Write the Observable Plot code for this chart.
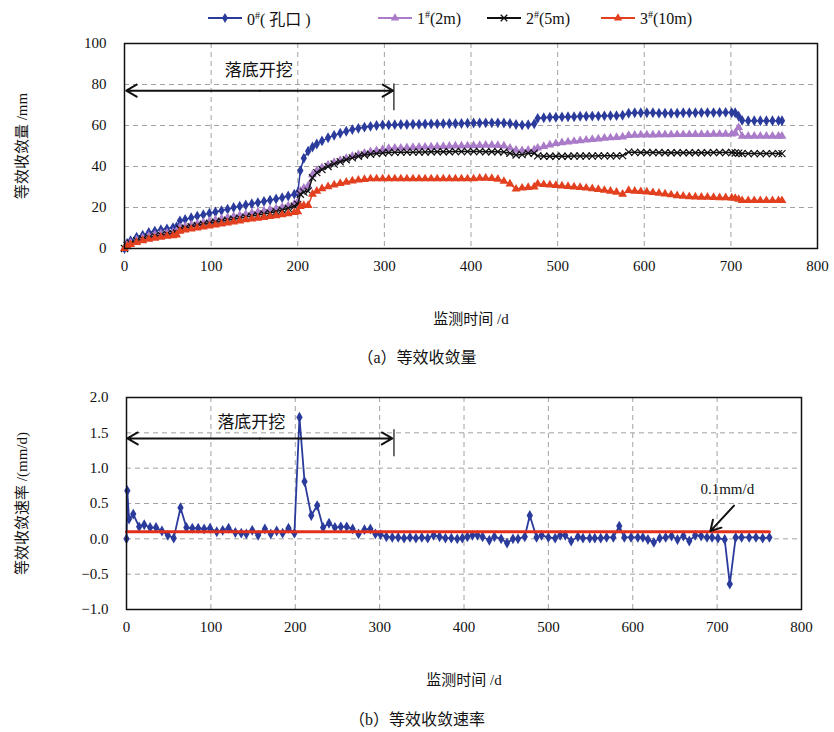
<!DOCTYPE html>
<html><head><meta charset="utf-8">
<script src="https://cdn.jsdelivr.net/npm/d3@7"></script>
<script src="https://cdn.jsdelivr.net/npm/@observablehq/plot@0.6"></script>
<style>
body{margin:0;background:#fff;}
#wrap{position:relative;width:834px;height:732px;font-family:"Liberation Serif","Noto Sans CJK SC",serif;color:#111;overflow:hidden;}
.abs{position:absolute;}
.cap{position:absolute;left:0;width:834px;text-align:center;font-size:16px;}
.leg{position:absolute;top:6px;height:24px;display:flex;align-items:center;font-size:16px;}
.leg svg{margin-right:5px;}
sup{font-size:10px;vertical-align:6px;}
</style></head><body><div id="wrap"></div>
<script>
// ---------- data ----------
const seriesNames = ["0#(孔口)", "1#(2m)", "2#(5m)", "3#(10m)"];
const days = [
  0,3,7,14,21,28,35,42,49,56,60,
  64,70,77,84,91,98,105,112,119,126,133,140,147,154,161,168,175,182,189,196,
  200,203,207,212,217,222,228,235,242,249,256,263,270,277,284,291,298,
  305,312,319,326,333,340,347,354,361,368,375,382,389,396,403,410,417,424,431,438,445,452,459,466,473,
  477,484,491,498,505,512,519,526,533,540,547,554,561,568,575,
  582,589,596,603,610,617,624,631,638,645,652,659,666,673,680,687,694,701,
  705,709,713,720,727,734,741,748,755,759
];
const s0 = [
  0,2.5,3.8,5.5,6.5,7.8,8.5,9.2,9.6,10.2,10.5,
  13.5,14.2,15,15.8,16.5,17.2,17.8,18.5,19.2,20,20.6,21.2,21.8,22.4,23,23.6,24.2,24.8,25.6,26.5,
  27.2,38,44,47.5,49.5,51,52.5,54,55.2,56.2,57.2,58,58.6,59.2,59.6,60,60.3,
  60.3,60.4,60.5,60.5,60.6,60.6,60.7,60.8,60.8,60.9,61,61,61,61.1,61.2,61.2,61.3,61.3,61.3,61.2,61,60.5,60.2,60.4,60.8,
  63.5,63.8,64,64,64.2,64.3,64.3,64.5,64.5,64.6,64.6,64.7,64.8,64.8,65,
  66,66.2,66.2,66.2,66.2,66,66,66,66,66.2,66.2,66.2,66.3,66.3,66.3,66.4,66.4,66.3,
  66.2,64.5,62.5,62.3,62.3,62.3,62.3,62.3,62.3,62.3
];
const s1 = [
  0,1.8,2.8,4.2,5.2,6,6.6,7.2,7.6,8,8.3,
  10.3,10.8,11.5,12.1,12.7,13.3,13.9,14.5,15.1,15.7,16.2,16.7,17.3,17.8,18.3,18.9,19.5,20.1,20.8,21.8,
  22.8,28,29.5,30.5,36,38,39.5,40.8,42,43,44,45,45.8,46.5,47.2,47.8,48.3,
  48.8,49,49,49.2,49.3,49.4,49.5,49.6,49.7,49.8,49.9,50,50,50.1,50.2,50.3,50.4,50.4,50.3,50,49,48,47.8,48,48.2,
  49,49.8,50.5,51.2,51.6,52,52.3,52.6,52.9,53.2,53.5,53.8,54,54.2,54.4,
  55.2,55.3,55.4,55.4,55.4,55.5,55.5,55.5,55.6,55.6,55.6,55.7,55.7,55.7,55.8,55.8,55.8,55.9,
  56.3,59,54.8,54.8,54.8,54.8,54.8,54.8,54.8,54.8
];
const s2 = [
  0,1.5,2.5,3.8,4.6,5.3,6,6.5,7,7.3,7.6,
  9.5,10,10.6,11.2,11.8,12.3,12.8,13.3,13.8,14.3,14.8,15.3,15.8,16.3,16.8,17.3,18,18.8,19.6,20.6,
  21.5,26.5,27.5,28,34.5,37,38.5,40,41.2,42.3,43.3,44.2,45,45.6,46,46.3,46.6,
  46.8,46.9,47,47,47,47.1,47.1,47.2,47.2,47.2,47.2,47.3,47.3,47.3,47.3,47.3,47.2,47.2,47.2,47.1,46.5,45.6,45.8,46.5,46.5,
  45.2,45,45,45,45,45,45.1,45.1,45.1,45.1,45.2,45.2,45.2,45.2,45.3,
  47,46.9,46.8,46.8,46.8,46.8,46.7,46.7,46.7,46.7,46.7,46.7,46.7,46.7,46.8,46.8,46.8,46.8,
  46.6,46.5,46.3,46.3,46.3,46.3,46.3,46.3,46.3,46.3
];
const s3 = [
  0,1.2,2,3,3.8,4.5,5,5.5,6,6.3,6.6,
  8.5,9,9.5,10,10.5,11,11.5,12,12.5,13,13.5,14,14.4,14.8,15.2,15.6,16,16.5,17,17.6,
  18,20.5,21,21,26.5,28,29.2,30.2,31,31.8,32.4,33,33.4,33.7,34,34,34,
  34,34,34,34,34,34,34,34,34,34,34,34,34,34,34,34.3,34.3,34.2,33.8,32.8,31.5,29,29.5,29.8,30,
  31.5,31.2,31,30.8,30.5,30.3,30,29.8,29.5,29.2,28.8,28.4,28,27.5,26.5,
  28.3,28,27.8,27.6,27.3,27,26.6,26.2,25.8,25.5,25.3,25.2,25,25,24.9,24.8,24.8,24.7,
  24.5,24,23.4,23.4,23.4,23.4,23.4,23.4,23.4,23.4
];
const rateDays = [
  0,1,3,8,15,21,28,35,42,49,56,64,71,78,85,92,99,107,114,121,
  129,136,142,149,156,164,171,178,185,192,199,205,211,219,226,233,240,247,254,261,
  268,275,282,289,295,301,308,315,322,329,336,343,350,357,364,371,378,385,392,398,
  404,410,416,422,430,436,444,451,458,464,472,478,486,492,500,508,514,520,527,535,
  541,549,555,562,569,577,584,590,598,606,612,618,625,632,639,646,653,660,667,674,
  681,688,694,701,709,715,722,729,738,746,754,762
];
const rateVals = [
  0,0.68,0.28,0.35,0.17,0.2,0.16,0.16,0.11,0.05,0.01,0.44,0.16,0.15,0.15,0.14,0.15,0.1,0.12,0.15,
  0.09,0.08,0.07,0.12,0.05,0.14,0.07,0.11,0.08,0.15,0.08,1.72,0.81,0.33,0.47,0.16,0.22,0.16,0.17,0.17,
  0.14,0.07,0.13,0.14,0.07,0.06,0.03,0.02,0.02,0.01,0.02,0.01,0.02,0.01,0.05,0.03,0.01,0.01,0,0.01,
  0.03,0.05,0.05,0.03,-0.02,0.03,0,-0.06,0,0,0.03,0.33,0.02,0.05,0.02,0.01,0.05,0.05,-0.03,0.03,
  0.01,0.01,0.01,0.01,0.02,0.02,0.18,0.02,0.02,0.02,0.02,-0.01,-0.05,0.01,0.02,0.04,-0.01,0.04,-0.03,0.05,
  0.04,0.02,0.02,0.01,-0.01,-0.64,0.02,0.02,0.02,0.02,0.01,0.02
];
const thresholdDays = [0, 762];
const thresholdVal = 0.1;
const xTicks = [0,100,200,300,400,500,600,700,800];
const yTicksA = [0,20,40,60,80,100];
const yTicksB = [-1.0,-0.5,0,0.5,1.0,1.5,2.0];
// annotations (data coordinates)
const excavLabel = "落底开挖";
const excavA = {textDay:155, textVal:87, arrowVal:77, from:2, to:310, tickDay:311, tickLo:67.5, tickHi:80.5};
const excavB = {textDay:148, textVal:1.64, arrowVal:1.42, from:1, to:315, tickDay:317, tickLo:1.17, tickHi:1.55};
const limitLabel = {day:712, val:0.70, text:"0.1mm/d"};
const limitArrow = {x1:720, y1:0.47, x2:692, y2:0.11};

// ---------- styles ----------
const colors = ["#2a3b9c", "#a97bc9", "#111111", "#e2401f"];
const symbols = ["diamond", "triangle", "times", "triangle"];
const fontFam = '"Liberation Serif","Noto Sans CJK SC",serif';
const seriesVals = [s0, s1, s2, s3];
const rows = seriesVals.map(vals => days.map((d, j) => ({day: d, v: vals[j]})));
const rateRows = rateDays.map((d, j) => ({day: d, v: rateVals[j]}));

const grid = {stroke: "#8a8a8a", strokeOpacity: 1, strokeDasharray: "5,4", strokeWidth: 0.8};

const wrap = document.getElementById("wrap");

// ---------- legend ----------
const legPos = [208, 378, 487, 601];
const legHtml = ["0<sup>#</sup>( 孔口 )", "1<sup>#</sup>(2m)", "2<sup>#</sup>(5m)", "3<sup>#</sup>(10m)"];
seriesNames.forEach((n, i) => {
  const d = document.createElement("div");
  d.className = "leg";
  d.style.left = legPos[i] + "px";
  const sym = d3.symbol(i === 2 ? d3.symbolTimes : (i === 0 ? d3.symbolDiamond : d3.symbolTriangle), 30)();
  const filled = i !== 2;
  d.innerHTML = `<svg width="34" height="12"><line x1="0" x2="34" y1="6" y2="6" stroke="${colors[i]}" stroke-width="2"/>` +
    `<path d="${sym}" transform="translate(17,6)" fill="${filled ? colors[i] : "none"}" stroke="${colors[i]}" stroke-width="${filled ? 0 : 1.3}"/></svg>` +
    `<span>${legHtml[i]}</span>`;
  wrap.appendChild(d);
});

// ---------- panel (a) ----------
const marksA = [
  Plot.gridX(xTicks.slice(1, -1), grid),
  Plot.gridY(yTicksA.slice(1, -1), grid),
  Plot.axisX(xTicks, {tickSize: 0, tickPadding: 12, label: "监测时间 /d", labelArrow: "none", labelAnchor: "center", labelOffset: 75, fontSize: 15}),
  Plot.axisY(yTicksA, {tickSize: 0, tickPadding: 18, label: "等效收敛量 /mm", labelArrow: "none", labelAnchor: "center", labelOffset: 108, fontSize: 15})
];
rows.forEach((r, i) => {
  marksA.push(Plot.line(r, {x: "day", y: "v", stroke: colors[i], strokeWidth: 1.5}));
  marksA.push(Plot.dot(r, {x: "day", y: "v", symbol: () => symbols[i], r: 3.3,
    fill: i === 2 ? "none" : colors[i], stroke: i === 2 ? colors[i] : "none", strokeWidth: 1.2}));
});
marksA.push(
  Plot.text([excavA], {x: "textDay", y: "textVal", text: () => excavLabel, fontSize: 17, fill: "#111"}),
  Plot.arrow([excavA], {x1: d => (d.from + d.to) / 2, x2: "from", y1: "arrowVal", y2: "arrowVal", stroke: "#111", strokeWidth: 2, headLength: 9}),
  Plot.arrow([excavA], {x1: d => (d.from + d.to) / 2, x2: "to", y1: "arrowVal", y2: "arrowVal", stroke: "#111", strokeWidth: 2, headLength: 9}),
  Plot.link([excavA], {x1: "tickDay", x2: "tickDay", y1: "tickLo", y2: "tickHi", stroke: "#111", strokeWidth: 1.2}),
  Plot.frame({stroke: "#111", strokeWidth: 1.5})
);
const plotA = Plot.plot({
  width: 834, height: 305,
  marginTop: 13, marginLeft: 124, marginRight: 17, marginBottom: 87,
  style: {fontFamily: fontFam, fontSize: "15px", color: "#111", background: "transparent"},
  x: {domain: [0, 800]},
  y: {domain: [0, 100]},
  marks: marksA
});
plotA.classList.add("abs");
plotA.style.left = "0px"; plotA.style.top = "30px";
wrap.appendChild(plotA);

const capA = document.createElement("div");
capA.className = "cap"; capA.style.top = "344px";
capA.textContent = "（a）等效收敛量";
wrap.appendChild(capA);

// ---------- panel (b) ----------
const plotB = Plot.plot({
  width: 834, height: 315,
  marginTop: 17, marginLeft: 126, marginRight: 33, marginBottom: 86,
  style: {fontFamily: fontFam, fontSize: "15px", color: "#111", background: "transparent"},
  x: {domain: [0, 800]},
  y: {domain: [-1, 2]},
  marks: [
    Plot.gridX(xTicks.slice(1, -1), grid),
    Plot.gridY(yTicksB.slice(1, -1), grid),
    Plot.axisX(xTicks, {tickSize: 0, tickPadding: 12, label: "监测时间 /d", labelArrow: "none", labelAnchor: "center", labelOffset: 75, fontSize: 15}),
    Plot.axisY(yTicksB, {tickSize: 0, tickPadding: 18, tickFormat: d3.format(".1f"), label: "等效收敛速率 /(mm/d)", labelArrow: "none", labelAnchor: "center", labelOffset: 110, fontSize: 15}),
    Plot.line(rateRows, {x: "day", y: "v", stroke: colors[0], strokeWidth: 1.8}),
    Plot.dot(rateRows, {x: "day", y: "v", symbol: "diamond", r: 3.3, fill: colors[0]}),
    Plot.line(thresholdDays.map(d => ({day: d, v: thresholdVal})), {x: "day", y: "v", stroke: "#e2301c", strokeWidth: 3}),
    Plot.text([excavB], {x: "textDay", y: "textVal", text: () => excavLabel, fontSize: 17, fill: "#111"}),
    Plot.arrow([excavB], {x1: d => (d.from + d.to) / 2, x2: "from", y1: "arrowVal", y2: "arrowVal", stroke: "#111", strokeWidth: 2, headLength: 9}),
    Plot.arrow([excavB], {x1: d => (d.from + d.to) / 2, x2: "to", y1: "arrowVal", y2: "arrowVal", stroke: "#111", strokeWidth: 2, headLength: 9}),
    Plot.link([excavB], {x1: "tickDay", x2: "tickDay", y1: "tickLo", y2: "tickHi", stroke: "#111", strokeWidth: 1.2}),
    Plot.text([limitLabel], {x: "day", y: "val", text: "text", fontSize: 15, fill: "#111"}),
    Plot.arrow([limitArrow], {x1: "x1", y1: "y1", x2: "x2", y2: "y2", stroke: "#111", strokeWidth: 2, headLength: 9}),
    Plot.frame({stroke: "#111", strokeWidth: 1.5})
  ]
});
plotB.classList.add("abs");
plotB.style.left = "0px"; plotB.style.top = "380px";
wrap.appendChild(plotB);

const capB = document.createElement("div");
capB.className = "cap"; capB.style.top = "706px";
capB.textContent = "（b）等效收敛速率";
wrap.appendChild(capB);
</script>
</body></html>
